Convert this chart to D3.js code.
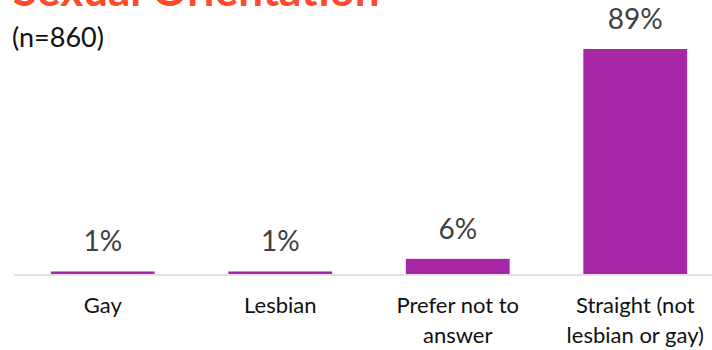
<!DOCTYPE html>
<html>
<head>
<meta charset="utf-8">
<script src="https://cdn.jsdelivr.net/npm/d3@7"></script>
<style>
  html, body { margin: 0; padding: 0; background: #fff; }
  svg { display: block; font-family: Lato, "Open Sans", sans-serif; }
</style>
</head>
<body>
<svg id="chart" width="712" height="350"></svg>
<script>
// Survey responses: sexual orientation share of respondents
const categories = ["Gay", "Lesbian", "Prefer not to answer", "Straight (not lesbian or gay)"];
const categoryLines = [["Gay"], ["Lesbian"], ["Prefer not to", "answer"], ["Straight (not", "lesbian or gay)"]];
const shares = [1, 1, 6, 89];
const valueLabels = ["1%", "1%", "6%", "89%"];
const title = "Sexual Orientation";
const subtitle = "(n=860)";

const svg = d3.select("#chart");
const baseY = 274;

const x = d3.scaleBand()
  .domain(categories)
  .range([14, 724])
  .paddingInner(0.415)
  .paddingOuter(0.2075);

const y = d3.scaleLinear()
  .domain([0, 89])
  .range([baseY, 49]);

// Title (partly clipped by the top edge) and sample size
svg.append("text")
  .attr("x", 13)
  .attr("y", 6)
  .attr("fill", "#FF4B2B")
  .attr("font-weight", 700)
  .attr("font-size", 44)
  .text(title);

svg.append("text")
  .attr("x", 12)
  .attr("y", 47)
  .attr("fill", "#111")
  .attr("font-size", 27)
  .text(subtitle);

// Bars
svg.selectAll("rect.bar")
  .data(shares)
  .join("rect")
  .attr("class", "bar")
  .attr("x", (d, i) => x(categories[i]))
  .attr("width", x.bandwidth())
  .attr("y", d => y(d))
  .attr("height", d => baseY - y(d))
  .attr("fill", "#A727A6");

// Baseline
svg.append("line")
  .attr("x1", 14).attr("x2", 712)
  .attr("y1", baseY + 1).attr("y2", baseY + 1)
  .attr("stroke", "#D9D9D9")
  .attr("stroke-width", 1.5);

// Value labels
svg.selectAll("text.value")
  .data(shares)
  .join("text")
  .attr("class", "value")
  .attr("x", (d, i) => x(categories[i]) + x.bandwidth() / 2)
  .attr("y", d => y(d) - 20)
  .attr("text-anchor", "middle")
  .attr("fill", "#404040")
  .attr("font-size", 28)
  .text((d, i) => valueLabels[i]);

// Category labels (wrapped)
const cat = svg.selectAll("text.cat")
  .data(categories)
  .join("text")
  .attr("class", "cat")
  .attr("text-anchor", "middle")
  .attr("fill", "#111")
  .attr("font-size", 22);

cat.each(function(d, i) {
  const t = d3.select(this);
  categoryLines[i].forEach((line, j) => {
    t.append("tspan")
      .attr("x", x(d) + x.bandwidth() / 2)
      .attr("y", 313 + j * 30)
      .text(line);
  });
});
</script>
</body>
</html>
